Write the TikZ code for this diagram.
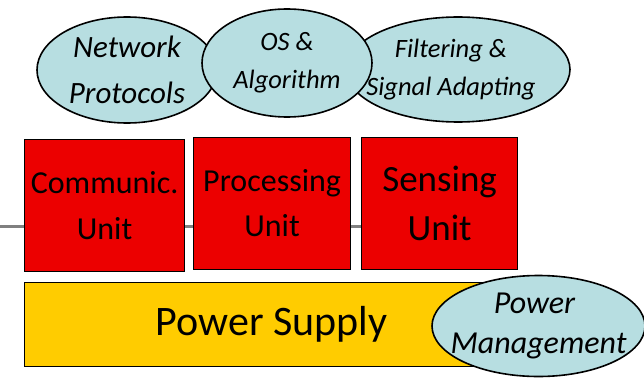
\documentclass[tikz,border=0pt]{standalone}
\usepackage{fontspec}
\setmainfont{Carlito}
\usetikzlibrary{shapes.geometric,backgrounds}
\definecolor{bubblefill}{RGB}{183,222,225}
\definecolor{unitred}{RGB}{236,0,0}
\definecolor{supply}{RGB}{255,204,0}
\definecolor{busgray}{RGB}{128,128,128}

\begin{document}
\begin{tikzpicture}[x=1pt,y=-1pt,
  unitbox/.style={draw=black, line width=1.2pt, fill=unitred, inner sep=0pt,
    align=center, anchor=north west, minimum height=132pt},
  % negative inner sep: the ellipse size is set by minimum width/height only
  bubble/.style={ellipse, draw=black, line width=1.6pt, fill=bubblefill,
    inner sep=-40pt, align=center}]
\useasboundingbox (0,0) rectangle (644,377);

% hardware units
\node[unitbox, minimum width=160pt, font=\fontsize{32}{46}\selectfont]
  (comm) at (24,139) {Communic.\\Unit};
\node[unitbox, minimum width=157pt, font=\fontsize{32}{45}\selectfont]
  (proc) at (193,137) {Processing\\Unit};
\node[unitbox, minimum width=156pt, font=\fontsize{37}{49}\selectfont]
  (sense) at (361,137) {Sensing\\Unit};

% internal bus running behind the units
\coordinate (busL) at (0,226);
\begin{scope}[on background layer]
  \draw[busgray, line width=3pt] (busL) -- (busL -| sense.west);
\end{scope}

% power supply
\node[draw=black, line width=1.2pt, fill=supply, anchor=north west,
  minimum width=494pt, minimum height=84pt, inner sep=0pt,
  font=\fontsize{42}{50}\selectfont] (power) at (24,282) {Power Supply};
\node[bubble, minimum width=213pt, minimum height=101pt,
  font=\itshape\fontsize{32}{40}\selectfont] (pm) at (538.5,326)
  {Power\hspace*{8pt}\\Management};

% software layer
\node[bubble, minimum width=180pt, minimum height=106pt,
  font=\itshape\fontsize{31}{46}\selectfont] (net) at (127,70)
  {Network\\Protocols};
\node[bubble, minimum width=224pt, minimum height=105pt,
  font=\itshape\fontsize{26.5}{38}\selectfont] (filt) at (458,69.5)
  {Filtering \&\hspace*{14pt}\\Signal Adapting\hspace*{14pt}};
\node[bubble, minimum width=170pt, minimum height=108pt,
  font=\itshape\fontsize{26.5}{38}\selectfont] (os) at (287,63)
  {OS \&\\Algorithm};
\end{tikzpicture}
\end{document}
